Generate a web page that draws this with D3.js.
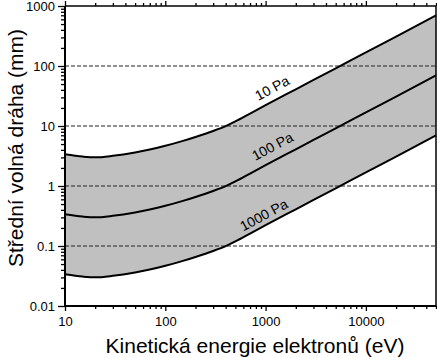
<!DOCTYPE html>
<html>
<head>
<meta charset="utf-8">
<script src="https://cdn.jsdelivr.net/npm/d3@7"></script>
<style>
  html, body { margin: 0; padding: 0; background: #fff; }
  svg { display: block; font-family: "Liberation Sans", Arial, sans-serif; }
</style>
</head>
<body>
<svg id="chart" width="437" height="358"></svg>
<script>
// ---- data ----
const energy = [10, 15, 20, 30, 50, 70, 100, 150, 200, 300, 400, 500, 700, 1000, 2000, 5000, 10000, 20000, 50000];
const p10   = [3.37, 3.09, 3.0, 3.18, 3.62, 4.05, 4.67, 5.65, 6.56, 8.26, 9.96, 11.9, 16.1, 22.2, 40.9, 91.6, 169, 310, 695];
const p100  = [0.337, 0.309, 0.300, 0.318, 0.362, 0.405, 0.467, 0.565, 0.656, 0.826, 0.996, 1.19, 1.61, 2.22, 4.09, 9.16, 16.9, 31.0, 69.5];
const p1000 = [0.0337, 0.0309, 0.0300, 0.0318, 0.0362, 0.0405, 0.0467, 0.0565, 0.0656, 0.0826, 0.0996, 0.119, 0.161, 0.222, 0.409, 0.916, 1.69, 3.10, 6.95];
const seriesNames = ["10 Pa", "100 Pa", "1000 Pa"];
const labelE = [1160, 1170, 960];
const labelV = [43, 4.6, 0.33];
const xTickValues = [10, 100, 1000, 10000];
const xTickLabels = ["10", "100", "1000", "10000"];
const yTickValues = [0.01, 0.1, 1, 10, 100, 1000];
const yTickLabels = ["0.01", "0.1", "1", "10", "100", "1000"];
const gridValues = [0.1, 1, 10, 100];
const xTitle = "Kinetická energie elektronů (eV)";
const yTitle = "Střední volná dráha (mm)";

// ---- scales ----
const svg = d3.select("#chart");
const x = d3.scaleLog().domain([10, 50000]).range([65, 436]);
const y = d3.scaleLog().domain([0.01, 1000]).range([306, 6]);

const xMinor = [];
for (let d = 10; d < 50000; d *= 10) for (let k = 2; k <= 9; k++) if (d * k <= 50000) xMinor.push(d * k);
const yMinor = [];
for (let d = 0.01; d < 1000; d *= 10) for (let k = 2; k <= 9; k++) yMinor.push(+(d * k).toPrecision(3));

// ---- fill between 10 Pa and 1000 Pa ----
const rows = energy.map((e, i) => ({ e, a: p10[i], b: p100[i], c: p1000[i] }));
svg.append("path")
  .datum(rows)
  .attr("d", d3.area().curve(d3.curveMonotoneX)
    .x(d => x(d.e)).y0(d => y(d.c)).y1(d => y(d.a)))
  .attr("fill", "#c0c0c0");

// ---- dashed grid lines ----
svg.append("g").selectAll("line").data(gridValues).join("line")
  .attr("x1", x(10)).attr("x2", x(50000))
  .attr("y1", d => y(d)).attr("y2", d => y(d))
  .attr("stroke", "#222").attr("stroke-width", 1)
  .attr("stroke-dasharray", "4,2");

// ---- curves ----
const line = d3.line().curve(d3.curveMonotoneX).x(d => x(d[0])).y(d => y(d[1]));
[p10, p100, p1000].forEach(vals => {
  svg.append("path")
    .datum(energy.map((e, i) => [e, vals[i]]))
    .attr("d", line)
    .attr("fill", "none").attr("stroke", "#000").attr("stroke-width", 2);
});

// ---- series labels ----
seriesNames.forEach((name, i) => {
  svg.append("text")
    .attr("transform", `translate(${x(labelE[i])},${y(labelV[i])}) rotate(-28)`)
    .attr("text-anchor", "middle").attr("dominant-baseline", "central")
    .attr("font-size", 14).attr("fill", "#000")
    .text(name);
});

// ---- axes ----
function styleAxis(g) {
  g.selectAll("line").attr("stroke", "#000").attr("stroke-width", 1.3);
  g.selectAll("text").attr("fill", "#000").attr("font-size", 13)
    .attr("font-family", "\"Liberation Sans\", Arial, sans-serif");
}
// bottom
svg.append("g").attr("transform", `translate(0,${y(0.01)})`)
  .call(d3.axisBottom(x).tickValues(xMinor).tickSize(3).tickFormat(""))
  .call(g => g.select(".domain").remove()).call(styleAxis);
svg.append("g").attr("transform", `translate(0,${y(0.01)})`)
  .call(d3.axisBottom(x).tickValues(xTickValues).tickSize(5).tickPadding(6)
    .tickFormat((d, i) => xTickLabels[i]))
  .call(g => g.select(".domain").remove()).call(styleAxis);
// top
svg.append("g").attr("transform", `translate(0,${y(1000)})`)
  .call(d3.axisTop(x).tickValues(xMinor).tickSize(3).tickFormat(""))
  .call(g => g.select(".domain").remove()).call(styleAxis);
svg.append("g").attr("transform", `translate(0,${y(1000)})`)
  .call(d3.axisTop(x).tickValues(xTickValues).tickSize(5).tickFormat(""))
  .call(g => g.select(".domain").remove()).call(styleAxis);
// left
svg.append("g").attr("transform", `translate(${x(10)},0)`)
  .call(d3.axisLeft(y).tickValues(yMinor).tickSize(4).tickFormat(""))
  .call(g => g.select(".domain").remove()).call(styleAxis);
svg.append("g").attr("transform", `translate(${x(10)},0)`)
  .call(d3.axisLeft(y).tickValues(yTickValues).tickSize(7).tickPadding(3)
    .tickFormat((d, i) => yTickLabels[i]))
  .call(g => g.select(".domain").remove()).call(styleAxis);

// frame
svg.append("line").attr("x1", x(10)).attr("x2", x(50000)).attr("y1", y(0.01)).attr("y2", y(0.01))
  .attr("stroke", "#000").attr("stroke-width", 2);
svg.append("line").attr("x1", x(10)).attr("x2", x(10)).attr("y1", y(1000)).attr("y2", y(0.01))
  .attr("stroke", "#000").attr("stroke-width", 2);
svg.append("line").attr("x1", x(10)).attr("x2", x(50000)).attr("y1", y(1000)).attr("y2", y(1000))
  .attr("stroke", "#000").attr("stroke-width", 1.5);
svg.append("line").attr("x1", x(50000)).attr("x2", x(50000)).attr("y1", y(1000)).attr("y2", y(0.01))
  .attr("stroke", "#000").attr("stroke-width", 1.5);

// ---- titles ----
svg.append("text")
  .attr("x", 255).attr("y", 353)
  .attr("text-anchor", "middle").attr("font-size", 21).attr("fill", "#000")
  .text(xTitle);
svg.append("text")
  .attr("transform", "translate(23,148) rotate(-90)")
  .attr("text-anchor", "middle").attr("font-size", 21).attr("fill", "#000")
  .text(yTitle);
</script>
</body>
</html>
